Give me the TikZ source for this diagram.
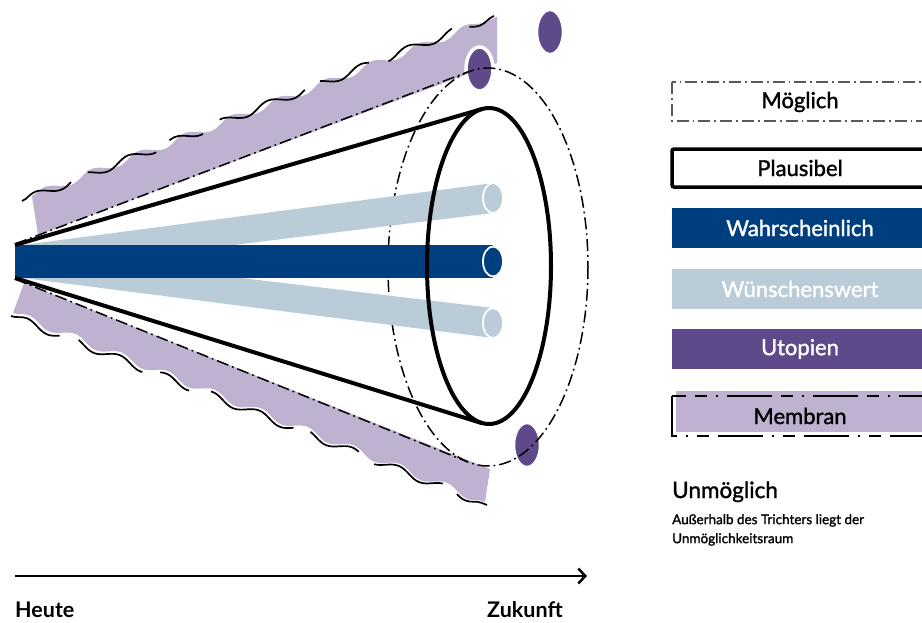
\documentclass[tikz,border=0pt]{standalone}
\usepackage{fontspec}
\setmainfont{Lato}[FakeBold=1.4]
\newfontfamily\plainfont{Lato}
\usetikzlibrary{decorations.pathmorphing,arrows.meta}

\definecolor{wblue}{HTML}{003F7F}
\definecolor{wlight}{HTML}{B9CCD8}
\definecolor{utop}{HTML}{5E4A8B}
\definecolor{memb}{HTML}{BFB2D0}

\tikzset{
  wavy/.style={decorate,decoration={snake,amplitude=3.8pt,segment length=50pt}},
  wavyline/.style={wavy,draw=black,line width=1.7pt,
    dash pattern=on 55pt off 20pt on 75pt off 18pt on 35pt off 22pt on 95pt off 18pt},
  dashdot/.style={draw=black,line width=1.5pt,dash pattern=on 12pt off 4pt on 1.8pt off 4pt},
  cone/.style={draw=black,line width=4pt},
  capend/.style={draw=white,line width=1.8pt},
  utodot/.style={fill=utop,draw=white,line width=3.5pt},
  legtext/.style={font=\fontsize{22}{24}\selectfont,anchor=center,inner sep=0pt},
  axislabel/.style={font=\plainfont\fontsize{21.5}{24}\selectfont\bfseries,anchor=base west,inner sep=0pt},
}

\begin{document}
\begin{tikzpicture}[x=1pt,y=-1pt]
\useasboundingbox (0,0) rectangle (922,622);
\clip (0,0) rectangle (922,622);

% membrane bands around the funnel
\fill[memb] (32,196) decorate[wavy]{-- (497,17)} -- (497,63) -- (38,235) -- cycle;
\fill[memb] (13,313) decorate[wavy]{-- (485,502)} -- (490,469) -- (24,283) -- cycle;
\draw[wavyline] (22,201) -- (494,16);
\draw[wavyline] (11,316) -- (487,505);

% utopias
\path[utodot] (479.5,69) ellipse [x radius=13.5,y radius=22];
\path[utodot] (550,32) ellipse [x radius=13.5,y radius=22.5];
\path[utodot] (527,445) ellipse [x radius=13.5,y radius=22.5];

% space of the possible
\coordinate (apexT) at (15,244);
\coordinate (apexB) at (15,279);
\coordinate (posT) at (469,71.5);
\coordinate (posB) at (468,462);
\draw[dashdot] (488,267) ellipse [x radius=100,y radius=199];
\draw[dashdot] (apexT) -- (posT);
\draw[dashdot] (apexB) -- (posB);

% desirable futures
\fill[wlight] (15,246) -- (493,183) -- (493,213) -- (15,272) -- cycle;
\fill[wlight] (15,251) -- (493,308) -- (493,338) -- (15,277) -- cycle;
\filldraw[fill=wlight,capend] (493,198) ellipse [x radius=10,y radius=15];
\filldraw[fill=wlight,capend] (493,323) ellipse [x radius=10,y radius=15];

% probable future
\fill[wblue] (15,245) rectangle (493,278);
\filldraw[fill=wblue,capend] (493,261.5) ellipse [x radius=10,y radius=15];

% plausible cone
\coordinate (plT) at (482,109);
\coordinate (plB) at (481.5,423);
\draw[cone] (15,245) -- (plT);
\draw[cone] (15,278) -- (plB);
\draw[cone] (489,266) ellipse [x radius=62,y radius=158];

% time axis
\coordinate (heute) at (15,576);
\coordinate (zukunft) at (587,576);
\draw[line width=2.5pt,-{Straight Barb[length=7pt,width=15pt,line width=2.5pt]}] (heute) -- (zukunft);
\node[axislabel] (tHeute) at (15,617) {Heute};
\node[axislabel] (tZukunft) at (487,617) {Zukunft};

% legend
\draw[draw=black!65,line width=1.3pt,dash pattern=on 12pt off 4pt on 1.8pt off 4pt] (672,82) rectangle (940,121);
\node[legtext] (lgMoeglich) at (800,102) {Möglich};

\draw[line width=3.5pt,rounded corners=2pt] (672,149) rectangle (940,187);
\node[legtext] (lgPlausibel) at (800,168) {Plausibel};

\fill[wblue] (672,208) rectangle (940,248);
\node[legtext,text=white] (lgWahr) at (800,228) {Wahrscheinlich};

\fill[wlight] (672,269) rectangle (940,309);
\node[legtext,text=white] (lgWuensch) at (800,289) {Wünschenswert};

\fill[utop] (672,329) rectangle (940,369);
\node[legtext,text=white] (lgUtopien) at (800,349) {Utopien};

\fill[memb] (676,391) rectangle (940,432);
\draw[line width=1.6pt,dash pattern=on 45pt off 9pt on 2pt off 9pt on 12pt off 9pt] (672,396) rectangle (940,436);
\node[legtext] (lgMembran) at (800,416) {Membran};

\node[font=\fontsize{22.5}{24}\selectfont,anchor=base west,inner sep=0pt] (tUnm) at (672,498) {Unmöglich};
\node[font=\fontsize{13.5}{19}\selectfont,anchor=north west,inner sep=0pt,align=left] (tUnmText) at (672,514)
  {Außerhalb des Trichters liegt der\\Unmöglichkeitsraum};
\end{tikzpicture}
\end{document}
